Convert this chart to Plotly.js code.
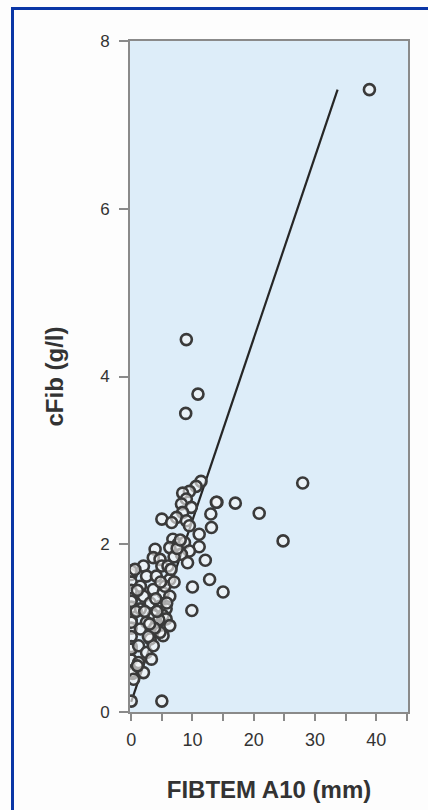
<!DOCTYPE html>
<html>
<head>
<meta charset="utf-8">
<script src="https://cdn.plot.ly/plotly-3.0.1.min.js"></script>
<style>
  html, body { margin:0; padding:0; background:#fdfdfd; }
  #wrap { position:relative; width:428px; height:810px; overflow:hidden; background:#fdfdfd; }
  #frame { position:absolute; left:11px; top:7px; width:440px; height:820px; border-left:3px solid #0a36a6; border-top:3px solid #0a36a6; box-sizing:border-box; pointer-events:none; z-index:5; }
  #chart { position:absolute; left:0; top:0; width:428px; height:810px; }
</style>
</head>
<body>
<div id="wrap">
  <div id="chart"></div>
  <div id="frame"></div>
</div>
<script>
// FIBTEM A10 (mm) values
const fibtemA10 = [
  38.9, 9.0, 10.9, 8.9, 28.0, 17.0, 14.0, 20.9, 13.0, 24.8, 13.1, 12.8, 15.0, 10.0, 9.9, 5.0, 0,
  11.4, 10.6, 9.5, 8.4, 9.0, 8.2, 9.8, 8.4, 7.4, 5.0, 6.6, 9.0, 9.5, 11.1, 6.8, 7.6, 8.7, 6.3, 11.1, 9.5, 8.2, 12.1, 9.2, 13.9,
  0, 0, 0, 0, 0, 0, 0, 0, 0, 0, 0.2, 0, 0, 0, 0, 0,
  3.9, 3.6, 4.7, 5.0, 2.0, 0.6, 2.5, 4.1, 1.5, 3.6, 5.2, 2.0, 6.3, 3.1, 4.7, 1.5, 5.7, 3.6, 5.2, 2.5, 4.1, 1.5, 5.2, 3.1, 1.2, 2.5, 3.3, 1.2, 2.0, 0.4, 6.3, 6.0, 5.7, 6.3, 4.7, 3.6,
  4.0, 4.5, 3.8, 4.2, 5.5, 6.5, 7.0, 7.5, 8.0, 4.8, 3.0, 2.8, 1.0, 0.8, 1.0, 7.0, 5.8, 2.2
];
// cFib (g/l) values
const cFib = [
  7.42, 4.44, 3.79, 3.56, 2.73, 2.49, 2.50, 2.37, 2.36, 2.04, 2.20, 1.58, 1.43, 1.49, 1.21, 0.13, 0.13,
  2.75, 2.69, 2.63, 2.61, 2.54, 2.48, 2.44, 2.38, 2.32, 2.30, 2.26, 2.28, 2.22, 2.12, 2.06, 2.00, 2.02, 1.96, 1.97, 1.92, 1.88, 1.81, 1.78, 2.50,
  1.64, 1.55, 1.45, 1.35, 1.25, 1.10, 1.00, 0.90, 0.78, 0.62, 0.46, 1.68, 1.32, 1.07, 0.75, 0.48,
  1.94, 1.84, 1.82, 1.74, 1.74, 1.70, 1.62, 1.62, 1.50, 1.46, 1.42, 1.38, 1.38, 1.30, 1.26, 1.23, 1.23, 1.15, 1.15, 1.07, 1.03, 0.99, 0.91, 0.87, 0.79, 0.71, 0.63, 0.59, 0.47, 0.39, 1.58, 1.74, 1.11, 1.03, 0.95, 0.79,
  1.35, 1.10, 1.00, 1.20, 1.50, 1.70, 1.85, 1.95, 2.05, 1.55, 1.05, 0.90, 0.55, 1.20, 1.45, 1.55, 1.30, 1.20
];
// fitted regression line end points
const fitX = [0, 33.7];
const fitY = [0.12, 7.42];

const xTickVals = [0, 5, 10, 15, 20, 25, 30, 35, 40, 45];
const xTickText = ['0', '', '10', '', '20', '', '30', '', '40', ''];
const yTickVals = [0, 2, 4, 6, 8];
const yTickText = ['0', '2', '4', '6', '8'];

const traces = [
  {
    x: fitX, y: fitY, type: 'scatter', mode: 'lines',
    line: { color: '#262626', width: 2.2 },
    hoverinfo: 'skip'
  },
  {
    x: fibtemA10, y: cFib, type: 'scatter', mode: 'markers',
    marker: { symbol: 'circle', size: 11, color: 'rgba(245,245,245,0.6)',
              line: { color: '#3a3a3a', width: 2.6 } }
  }
];

const layout = {
  width: 428, height: 810,
  margin: { l: 130, r: 20, t: 41, b: 98 },
  paper_bgcolor: '#fdfdfd',
  plot_bgcolor: '#ddedf9',
  showlegend: false,
  font: { family: 'Liberation Sans, Arial, sans-serif', color: '#333' },
  xaxis: {
    range: [-0.2, 45.2],
    tickmode: 'array', tickvals: xTickVals, ticktext: xTickText,
    ticks: 'outside', ticklen: 7, tickwidth: 2, tickcolor: '#8a8a8a',
    showline: true, linecolor: '#8a8a8a', linewidth: 2, mirror: true,
    showgrid: false, zeroline: false,
    ticklabelstandoff: 3,
    tickfont: { size: 18, color: '#333' },
    title: { text: 'FIBTEM A10 (mm)', font: { size: 24, color: '#333', family: 'Liberation Sans, Arial, sans-serif', weight: 'bold' }, standoff: 33 }
  },
  yaxis: {
    range: [0, 8],
    tickmode: 'array', tickvals: yTickVals, ticktext: yTickText,
    ticks: 'outside', ticklen: 9, tickwidth: 2, tickcolor: '#8a8a8a',
    showline: true, linecolor: '#8a8a8a', linewidth: 2, mirror: true,
    showgrid: false, zeroline: false,
    ticklabelstandoff: 6,
    tickfont: { size: 17, color: '#333' },
    title: { text: 'cFib (g/l)', font: { size: 24, color: '#333', family: 'Liberation Sans, Arial, sans-serif', weight: 'bold' }, standoff: 30 }
  }
};

Plotly.newPlot('chart', traces, layout, { displayModeBar: false, staticPlot: true });
</script>
</body>
</html>
